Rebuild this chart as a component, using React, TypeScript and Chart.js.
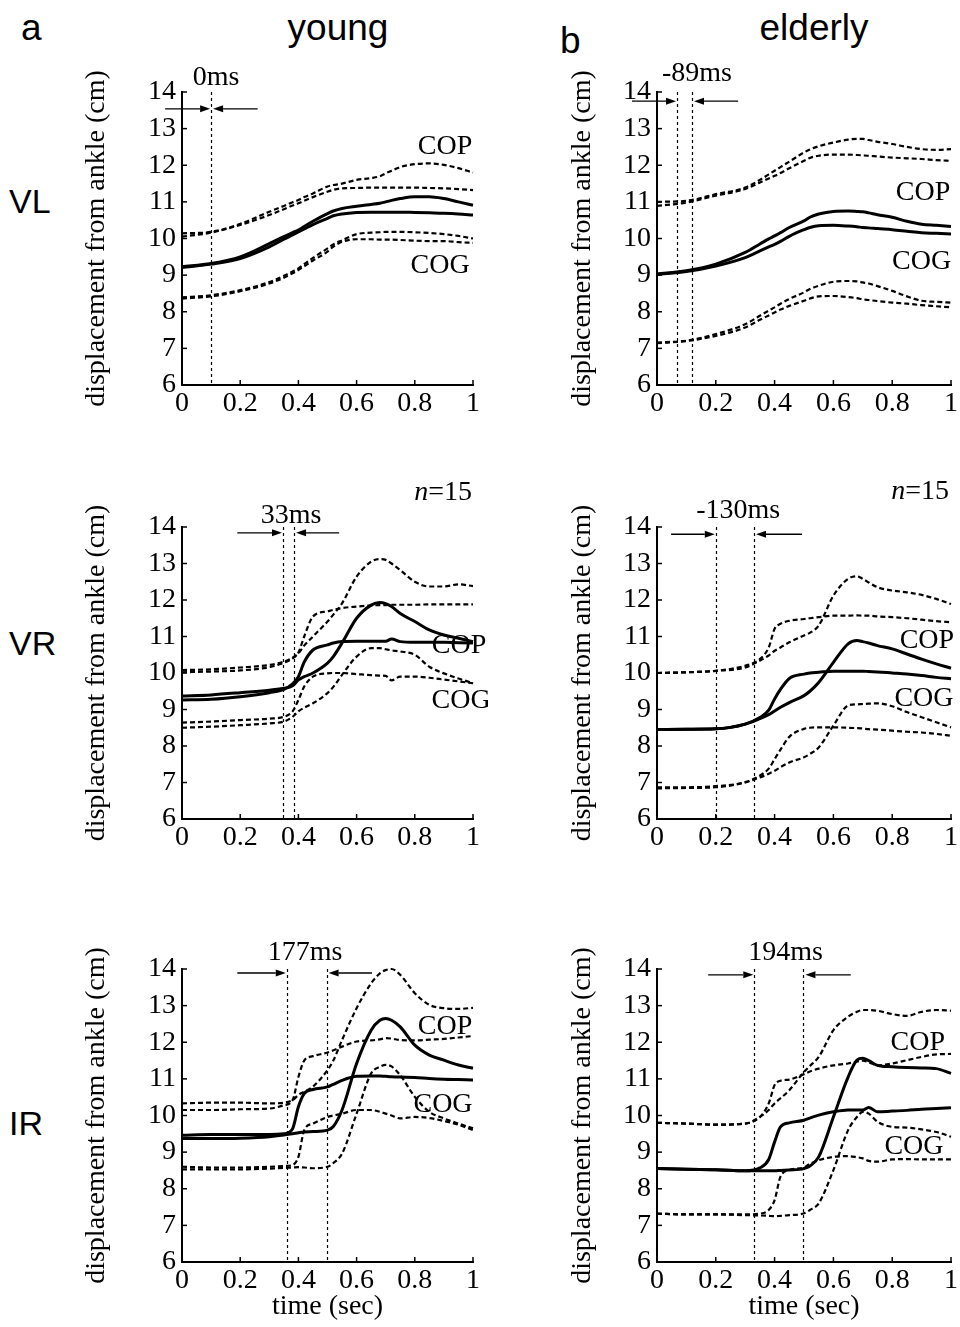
import React, { useEffect, useRef } from "react";
import { Chart, registerables } from "chart.js";

Chart.register(...registerables);

const SERIF = "'Liberation Serif', 'Times New Roman', serif";
const SANS = "'Liberation Sans', Arial, sans-serif";

// time axis (sec) shared by every series
const times = [0, 0.1, 0.2, 0.3, 0.35, 0.38, 0.4, 0.42, 0.45, 0.5, 0.52, 0.55, 0.6, 0.65, 0.68, 0.7, 0.72, 0.75, 0.8, 0.85, 0.9, 0.95, 1.0];
const xTickValues = [0, 0.2, 0.4, 0.6, 0.8, 1];
const yTickValues = [6, 7, 8, 9, 10, 11, 12, 13, 14];

// ---- young, VL ----
const youngVL_sdUpper1 = [10.14, 10.18, 10.4, 10.73, 10.89, 10.99, 11.05, 11.13, 11.23, 11.42, 11.46, 11.5, 11.6, 11.65, 11.7, 11.78, 11.85, 11.95, 12.03, 12.05, 12.01, 11.92, 11.8];
const youngVL_sdUpper2 = [10.05, 10.16, 10.37, 10.64, 10.8, 10.9, 10.96, 11.03, 11.13, 11.28, 11.33, 11.37, 11.38, 11.39, 11.39, 11.39, 11.39, 11.39, 11.39, 11.38, 11.37, 11.35, 11.32];
const youngVL_meanA = [9.23, 9.32, 9.5, 9.86, 10.05, 10.16, 10.23, 10.33, 10.47, 10.68, 10.75, 10.82, 10.88, 10.93, 10.96, 11.0, 11.04, 11.09, 11.14, 11.14, 11.09, 11.0, 10.91];
const youngVL_meanB = [9.21, 9.3, 9.45, 9.77, 9.98, 10.1, 10.18, 10.26, 10.38, 10.55, 10.62, 10.67, 10.71, 10.72, 10.72, 10.72, 10.72, 10.72, 10.71, 10.7, 10.69, 10.67, 10.64];
const youngVL_sdLower1 = [8.39, 8.45, 8.59, 8.81, 8.98, 9.1, 9.18, 9.3, 9.47, 9.73, 9.84, 9.95, 10.12, 10.16, 10.17, 10.18, 10.18, 10.18, 10.17, 10.15, 10.12, 10.07, 10.0];
const youngVL_sdLower2 = [8.36, 8.42, 8.56, 8.77, 8.93, 9.05, 9.14, 9.24, 9.4, 9.64, 9.78, 9.91, 9.98, 9.98, 9.97, 9.97, 9.97, 9.96, 9.94, 9.93, 9.93, 9.9, 9.88];

// ---- elderly, VL ----
const elderlyVL_sdUpper1 = [11.0, 11.03, 11.21, 11.39, 11.6, 11.75, 11.85, 11.95, 12.1, 12.35, 12.43, 12.52, 12.62, 12.7, 12.72, 12.72, 12.69, 12.64, 12.58, 12.5, 12.44, 12.42, 12.44];
const elderlyVL_sdUpper2 = [10.89, 10.98, 11.17, 11.35, 11.53, 11.64, 11.71, 11.79, 11.92, 12.12, 12.2, 12.26, 12.29, 12.29, 12.28, 12.27, 12.26, 12.24, 12.21, 12.19, 12.17, 12.14, 12.12];
const elderlyVL_meanA = [9.03, 9.12, 9.3, 9.62, 9.85, 9.99, 10.07, 10.16, 10.3, 10.48, 10.58, 10.67, 10.74, 10.75, 10.74, 10.73, 10.7, 10.65, 10.58, 10.47, 10.39, 10.36, 10.33];
const elderlyVL_meanB = [9.02, 9.1, 9.25, 9.48, 9.66, 9.77, 9.84, 9.92, 10.06, 10.24, 10.3, 10.35, 10.36, 10.34, 10.32, 10.3, 10.29, 10.27, 10.24, 10.2, 10.16, 10.14, 10.12];
const elderlyVL_sdLower1 = [7.16, 7.21, 7.39, 7.66, 7.89, 8.03, 8.12, 8.22, 8.35, 8.53, 8.62, 8.71, 8.82, 8.84, 8.83, 8.8, 8.77, 8.7, 8.57, 8.42, 8.3, 8.27, 8.25];
const elderlyVL_sdLower2 = [7.14, 7.2, 7.34, 7.57, 7.78, 7.9, 7.98, 8.06, 8.16, 8.3, 8.36, 8.42, 8.43, 8.4, 8.37, 8.34, 8.32, 8.29, 8.25, 8.22, 8.18, 8.15, 8.12];

// ---- young, VR ----
const youngVR_sdUpper1 = [10.08, 10.1, 10.15, 10.22, 10.31, 10.42, 10.54, 10.75, 11.0, 11.41, 11.6, 11.91, 12.64, 13.05, 13.12, 13.1, 13.0, 12.82, 12.5, 12.37, 12.37, 12.43, 12.38];
const youngVR_sdUpper2 = [10.02, 10.04, 10.07, 10.16, 10.28, 10.4, 10.56, 11.0, 11.55, 11.69, 11.73, 11.78, 11.82, 11.85, 11.86, 11.86, 11.87, 11.87, 11.87, 11.88, 11.88, 11.88, 11.88];
const youngVR_meanA = [9.37, 9.4, 9.46, 9.53, 9.58, 9.65, 9.81, 9.9, 10.0, 10.27, 10.45, 10.82, 11.5, 11.86, 11.93, 11.9, 11.82, 11.63, 11.41, 11.18, 11.04, 10.95, 10.86];
const youngVR_meanB = [9.26, 9.28, 9.35, 9.46, 9.55, 9.7, 9.9, 10.3, 10.63, 10.77, 10.82, 10.86, 10.87, 10.87, 10.87, 10.87, 10.93, 10.86, 10.84, 10.84, 10.84, 10.83, 10.82];
const youngVR_sdLower1 = [8.64, 8.67, 8.71, 8.75, 8.8, 8.95, 9.26, 9.63, 9.9, 9.99, 10.0, 10.0, 9.97, 9.94, 9.93, 9.92, 9.8, 9.9, 9.9, 9.87, 9.82, 9.77, 9.72];
const youngVR_sdLower2 = [8.5, 8.53, 8.57, 8.62, 8.67, 8.8, 8.95, 9.05, 9.17, 9.45, 9.62, 9.95, 10.45, 10.68, 10.68, 10.65, 10.62, 10.59, 10.5, 10.17, 9.99, 9.85, 9.72];

// ---- elderly, VR ----
const elderlyVR_sdUpper1 = [10.0, 10.02, 10.06, 10.15, 10.34, 10.48, 10.61, 10.7, 10.84, 11.03, 11.1, 11.3, 12.12, 12.58, 12.65, 12.58, 12.48, 12.35, 12.26, 12.21, 12.14, 12.03, 11.89];
const elderlyVR_sdUpper2 = [10.0, 10.02, 10.06, 10.2, 10.38, 10.7, 11.21, 11.35, 11.43, 11.48, 11.5, 11.53, 11.57, 11.57, 11.58, 11.57, 11.57, 11.55, 11.53, 11.5, 11.46, 11.42, 11.39];
const elderlyVR_meanA = [8.45, 8.46, 8.47, 8.6, 8.78, 8.98, 9.29, 9.55, 9.85, 9.97, 10.0, 10.02, 10.05, 10.05, 10.05, 10.05, 10.04, 10.03, 10.0, 9.97, 9.93, 9.88, 9.84];
const elderlyVR_meanB = [8.45, 8.46, 8.47, 8.6, 8.75, 8.86, 8.96, 9.06, 9.19, 9.38, 9.5, 9.74, 10.29, 10.8, 10.89, 10.86, 10.82, 10.75, 10.66, 10.52, 10.38, 10.25, 10.13];
const elderlyVR_sdLower1 = [6.87, 6.87, 6.9, 7.01, 7.19, 7.38, 7.64, 7.9, 8.25, 8.47, 8.5, 8.51, 8.51, 8.5, 8.49, 8.48, 8.46, 8.45, 8.42, 8.39, 8.37, 8.33, 8.28];
const elderlyVR_sdLower2 = [6.84, 6.85, 6.87, 7.0, 7.14, 7.24, 7.32, 7.42, 7.55, 7.69, 7.78, 7.96, 8.56, 9.11, 9.14, 9.15, 9.16, 9.17, 9.09, 8.93, 8.79, 8.65, 8.51];

// ---- young, IR ----
const youngIR_sdUpper1 = [10.33, 10.35, 10.35, 10.33, 10.35, 10.42, 10.56, 10.65, 10.79, 11.24, 11.5, 12.06, 12.93, 13.61, 13.88, 13.97, 14.0, 13.84, 13.34, 13.02, 12.93, 12.91, 12.94];
const youngIR_sdUpper2 = [10.15, 10.15, 10.17, 10.19, 10.28, 10.42, 11.05, 11.5, 11.62, 11.72, 11.78, 11.88, 12.02, 12.05, 12.08, 12.11, 12.1, 12.06, 12.05, 12.07, 12.09, 12.13, 12.17];
const youngIR_meanA = [9.46, 9.48, 9.48, 9.48, 9.5, 9.64, 10.24, 10.6, 10.71, 10.78, 10.85, 10.96, 11.07, 11.08, 11.08, 11.07, 11.06, 11.05, 11.04, 11.01, 10.99, 10.98, 10.97];
const youngIR_meanB = [9.37, 9.37, 9.38, 9.42, 9.47, 9.5, 9.53, 9.55, 9.56, 9.6, 9.7, 10.15, 11.42, 12.33, 12.6, 12.65, 12.6, 12.42, 11.92, 11.65, 11.51, 11.38, 11.29];
const youngIR_sdLower1 = [8.6, 8.58, 8.58, 8.6, 8.62, 8.65, 8.87, 9.6, 9.78, 9.96, 10.0, 10.05, 10.15, 10.15, 10.1, 10.05, 10.0, 9.92, 9.96, 9.93, 9.85, 9.75, 9.6];
const youngIR_sdLower2 = [8.53, 8.53, 8.53, 8.55, 8.57, 8.58, 8.59, 8.58, 8.56, 8.6, 8.7, 8.96, 10.05, 11.15, 11.33, 11.38, 11.34, 11.1, 10.51, 10.1, 9.92, 9.78, 9.65];

// ---- elderly, IR ----
const elderlyIR_sdUpper1 = [9.8, 9.78, 9.75, 9.78, 9.96, 10.15, 10.33, 10.47, 10.69, 11.19, 11.35, 11.6, 12.33, 12.7, 12.83, 12.88, 12.88, 12.86, 12.77, 12.72, 12.83, 12.88, 12.86];
const elderlyIR_sdUpper2 = [9.8, 9.78, 9.75, 9.78, 9.96, 10.33, 10.83, 10.95, 10.98, 11.13, 11.2, 11.28, 11.37, 11.42, 11.47, 11.5, 11.45, 11.37, 11.42, 11.51, 11.6, 11.67, 11.68];
const elderlyIR_meanA = [8.55, 8.53, 8.52, 8.49, 8.57, 8.8, 9.28, 9.69, 9.8, 9.87, 9.93, 10.01, 10.1, 10.15, 10.15, 10.15, 10.22, 10.1, 10.12, 10.14, 10.17, 10.19, 10.21];
const elderlyIR_meanB = [8.55, 8.53, 8.52, 8.49, 8.49, 8.49, 8.49, 8.5, 8.51, 8.55, 8.62, 8.87, 9.96, 11.05, 11.51, 11.56, 11.5, 11.37, 11.33, 11.31, 11.3, 11.28, 11.15];
const elderlyIR_sdLower1 = [7.32, 7.3, 7.3, 7.3, 7.32, 7.42, 7.69, 8.33, 8.51, 8.58, 8.68, 8.78, 8.87, 8.89, 8.86, 8.83, 8.76, 8.74, 8.8, 8.81, 8.8, 8.8, 8.8];
const elderlyIR_sdLower2 = [7.32, 7.3, 7.3, 7.28, 7.27, 7.26, 7.25, 7.26, 7.28, 7.33, 7.42, 7.6, 8.51, 9.6, 9.96, 10.1, 10.05, 9.83, 9.69, 9.67, 9.62, 9.55, 9.42];

// onset markers (sec)
const youngVL_markers = [0.1];
const elderlyVL_markers = [0.068, 0.119];
const youngVR_markers = [0.347, 0.385];
const elderlyVR_markers = [0.2, 0.33];
const youngIR_markers = [0.36, 0.497];
const elderlyIR_markers = [0.331, 0.498];

type Part = { text: string; italic?: boolean };
type Note = { t: number; v: number; parts: Part[] };
type PanelSpec = {
  key: string;
  left: number;
  top: number;
  width: number;
  height: number;
  yScaleWidth: number;
  xScaleHeight: number;
  padRight: number;
  showXTitle: boolean;
  means: number[][];
  sds: number[][];
  markers: number[];
  arrowLevel: number;
  arrowFrom: [number, number];
  notes: Note[];
};

const LEFT_COL = { left: 76, width: 412, yScaleWidth: 106, padRight: 15 };
const RIGHT_COL = { left: 562, width: 398, yScaleWidth: 95, padRight: 9 };
const ROW1 = { top: 32, height: 393, xScaleHeight: 40, showXTitle: false };
const ROW2 = { top: 467, height: 392, xScaleHeight: 40, showXTitle: false };
const ROW3 = { top: 909, height: 418, xScaleHeight: 65, showXTitle: true };

const t = (text: string): Part[] => [{ text }];
const nLabel: Part[] = [{ text: "n", italic: true }, { text: "=15" }];

const panels: PanelSpec[] = [
  {
    key: "youngVL", ...LEFT_COL, ...ROW1,
    means: [youngVL_meanA, youngVL_meanB],
    sds: [youngVL_sdUpper1, youngVL_sdUpper2, youngVL_sdLower1, youngVL_sdLower2],
    markers: youngVL_markers, arrowLevel: 13.54, arrowFrom: [-0.058, 0.26],
    notes: [
      { t: 0.117, v: 14.4, parts: t("0ms") },
      { t: 0.904, v: 12.52, parts: t("COP") },
      { t: 0.887, v: 9.27, parts: t("COG") },
    ],
  },
  {
    key: "elderlyVL", ...RIGHT_COL, ...ROW1,
    means: [elderlyVL_meanA, elderlyVL_meanB],
    sds: [elderlyVL_sdUpper1, elderlyVL_sdUpper2, elderlyVL_sdLower1, elderlyVL_sdLower2],
    markers: elderlyVL_markers, arrowLevel: 13.75, arrowFrom: [-0.085, 0.276],
    notes: [
      { t: 0.136, v: 14.49, parts: t("-89ms") },
      { t: 0.905, v: 11.24, parts: t("COP") },
      { t: 0.9, v: 9.38, parts: t("COG") },
    ],
  },
  {
    key: "youngVR", ...LEFT_COL, ...ROW2,
    means: [youngVR_meanA, youngVR_meanB],
    sds: [youngVR_sdUpper1, youngVR_sdUpper2, youngVR_sdLower1, youngVR_sdLower2],
    markers: youngVR_markers, arrowLevel: 13.84, arrowFrom: [0.19, 0.54],
    notes: [
      { t: 0.897, v: 14.93, parts: nLabel },
      { t: 0.375, v: 14.3, parts: t("33ms") },
      { t: 0.952, v: 10.74, parts: t("COP") },
      { t: 0.959, v: 9.23, parts: t("COG") },
    ],
  },
  {
    key: "elderlyVR", ...RIGHT_COL, ...ROW2,
    means: [elderlyVR_meanA, elderlyVR_meanB],
    sds: [elderlyVR_sdUpper1, elderlyVR_sdUpper2, elderlyVR_sdLower1, elderlyVR_sdLower2],
    markers: elderlyVR_markers, arrowLevel: 13.8, arrowFrom: [0.048, 0.493],
    notes: [
      { t: 0.895, v: 14.96, parts: nLabel },
      { t: 0.276, v: 14.44, parts: t("-130ms") },
      { t: 0.918, v: 10.88, parts: t("COP") },
      { t: 0.908, v: 9.29, parts: t("COG") },
    ],
  },
  {
    key: "youngIR", ...LEFT_COL, ...ROW3,
    means: [youngIR_meanA, youngIR_meanB],
    sds: [youngIR_sdUpper1, youngIR_sdUpper2, youngIR_sdLower1, youngIR_sdLower2],
    markers: youngIR_markers, arrowLevel: 13.89, arrowFrom: [0.19, 0.653],
    notes: [
      { t: 0.423, v: 14.44, parts: t("177ms") },
      { t: 0.904, v: 12.42, parts: t("COP") },
      { t: 0.897, v: 10.31, parts: t("COG") },
    ],
  },
  {
    key: "elderlyIR", ...RIGHT_COL, ...ROW3,
    means: [elderlyIR_meanA, elderlyIR_meanB],
    sds: [elderlyIR_sdUpper1, elderlyIR_sdUpper2, elderlyIR_sdLower1, elderlyIR_sdLower2],
    markers: elderlyIR_markers, arrowLevel: 13.84, arrowFrom: [0.174, 0.659],
    notes: [
      { t: 0.437, v: 14.44, parts: t("194ms") },
      { t: 0.887, v: 12.0, parts: t("COP") },
      { t: 0.874, v: 9.16, parts: t("COG") },
    ],
  },
];

const FONT_SIZE = 28;

function drawArrow(ctx: CanvasRenderingContext2D, x0: number, x1: number, y: number) {
  const dir = x1 > x0 ? 1 : -1;
  const head = 10;
  ctx.beginPath();
  ctx.moveTo(x0, y);
  ctx.lineTo(x1 - dir * head, y);
  ctx.stroke();
  ctx.beginPath();
  ctx.moveTo(x1, y);
  ctx.lineTo(x1 - dir * head, y - 3.5);
  ctx.lineTo(x1 - dir * head, y + 3.5);
  ctx.closePath();
  ctx.fill();
}

function PanelChart({ spec }: { spec: PanelSpec }) {
  const canvasRef = useRef<HTMLCanvasElement | null>(null);

  useEffect(() => {
    const canvas = canvasRef.current;
    if (!canvas) return;
    const font = { family: SERIF, size: FONT_SIZE, style: "normal", weight: "normal", lineHeight: 1.2 };
    const line = (arr: number[], dashed: boolean) => ({
      data: times.map((tm, i) => ({ x: tm, y: arr[i] })),
      borderColor: "#000",
      backgroundColor: "#000",
      borderWidth: dashed ? 2.2 : 3,
      borderDash: dashed ? [5, 3] : [],
      pointRadius: 0,
      cubicInterpolationMode: "monotone",
      fill: false,
      clip: 8,
    });

    const annot = {
      id: "annot_" + spec.key,
      beforeDatasetsDraw(chart: any) {
        const { ctx, scales } = chart;
        const xs = scales.x;
        const ys = scales.y;
        ctx.save();
        ctx.fillStyle = "#000";
        ctx.textBaseline = "middle";
        ctx.textAlign = "left";
        spec.notes.forEach((n) => {
          let total = 0;
          const widths = n.parts.map((p) => {
            ctx.font = `${p.italic ? "italic " : ""}${FONT_SIZE}px ${SERIF}`;
            const w = ctx.measureText(p.text).width;
            total += w;
            return w;
          });
          let cx = xs.getPixelForValue(n.t) - total / 2;
          const cy = ys.getPixelForValue(n.v);
          n.parts.forEach((p, i) => {
            ctx.font = `${p.italic ? "italic " : ""}${FONT_SIZE}px ${SERIF}`;
            ctx.fillText(p.text, cx, cy);
            cx += widths[i];
          });
        });
        ctx.restore();
      },
      afterDatasetsDraw(chart: any) {
        const { ctx, chartArea, scales } = chart;
        const xs = scales.x;
        const ys = scales.y;
        ctx.save();
        ctx.strokeStyle = "#000";
        ctx.fillStyle = "#000";
        ctx.lineWidth = 1.5;
        yTickValues.forEach((v) => {
          const py = ys.getPixelForValue(v);
          ctx.beginPath();
          ctx.moveTo(chartArea.left, py);
          ctx.lineTo(chartArea.left + 5, py);
          ctx.stroke();
        });
        xTickValues.forEach((v) => {
          const px = xs.getPixelForValue(v);
          ctx.beginPath();
          ctx.moveTo(px, chartArea.bottom);
          ctx.lineTo(px, chartArea.bottom - 5);
          ctx.stroke();
        });
        ctx.lineWidth = 1.2;
        ctx.setLineDash([3, 3]);
        spec.markers.forEach((m) => {
          const px = Math.round(xs.getPixelForValue(m)) + 0.5;
          ctx.beginPath();
          ctx.moveTo(px, ys.getPixelForValue(14));
          ctx.lineTo(px, ys.getPixelForValue(6));
          ctx.stroke();
        });
        ctx.setLineDash([]);
        ctx.lineWidth = 1.4;
        const ay = ys.getPixelForValue(spec.arrowLevel);
        const m0 = xs.getPixelForValue(spec.markers[0]);
        const m1 = xs.getPixelForValue(spec.markers[spec.markers.length - 1]);
        drawArrow(ctx, xs.getPixelForValue(spec.arrowFrom[0]), m0 - 1, ay);
        drawArrow(ctx, xs.getPixelForValue(spec.arrowFrom[1]), m1 + 2, ay);
        ctx.restore();
      },
    };

    const chart = new Chart(canvas, {
      type: "line",
      data: {
        datasets: [
          ...spec.sds.map((s) => line(s, true)),
          ...spec.means.map((s) => line(s, false)),
        ],
      },
      options: {
        animation: false,
        responsive: false,
        devicePixelRatio: 1,
        layout: { padding: { top: 60, right: spec.padRight, bottom: 0, left: 0 } },
        plugins: { legend: { display: false }, tooltip: { enabled: false } },
        scales: {
          x: {
            type: "linear",
            min: 0,
            max: 1,
            afterBuildTicks: (s: any) => {
              s.ticks = xTickValues.map((v) => ({ value: v }));
            },
            afterFit: (s: any) => {
              s.height = spec.xScaleHeight;
            },
            ticks: {
              autoSkip: false,
              maxRotation: 0,
              color: "#000",
              font,
              padding: 2,
              callback: (v: any) => String(v),
            },
            grid: { display: false, drawTicks: false },
            border: { display: true, color: "#000", width: 2 },
            title: {
              display: spec.showXTitle,
              text: "time (sec)",
              color: "#000",
              font,
              padding: { top: 0, bottom: 4 },
            },
          },
          y: {
            type: "linear",
            min: 6,
            max: 14,
            afterBuildTicks: (s: any) => {
              s.ticks = yTickValues.map((v) => ({ value: v }));
            },
            afterFit: (s: any) => {
              s.width = spec.yScaleWidth;
            },
            ticks: { autoSkip: false, color: "#000", font, padding: 6, callback: (v: any) => String(v) },
            grid: { display: false, drawTicks: false },
            border: { display: true, color: "#000", width: 2 },
            title: {
              display: true,
              text: "displacement from ankle (cm)",
              color: "#000",
              font,
              padding: { top: 4, bottom: 4 },
            },
          },
        },
      },
      plugins: [annot],
    } as any);
    return () => chart.destroy();
  }, [spec]);

  return (
    <canvas
      ref={canvasRef}
      width={spec.width}
      height={spec.height}
      style={{ position: "absolute", left: spec.left, top: spec.top, width: spec.width, height: spec.height }}
    />
  );
}

const headings = [
  { text: "a", left: 21, top: 9, size: 37, width: 40, align: "left" },
  { text: "young", left: 238, top: 9, size: 37, width: 200, align: "center" },
  { text: "b", left: 560, top: 22, size: 37, width: 40, align: "left" },
  { text: "elderly", left: 714, top: 9, size: 37, width: 200, align: "center" },
  { text: "VL", left: 9, top: 184, size: 34, width: 80, align: "left" },
  { text: "VR", left: 9, top: 626, size: 34, width: 80, align: "left" },
  { text: "IR", left: 9, top: 1106, size: 34, width: 80, align: "left" },
];

export default function App() {
  return (
    <div
      style={{
        position: "absolute",
        left: 0,
        top: 0,
        width: 960,
        height: 1327,
        background: "#fff",
        overflow: "hidden",
      }}
    >
      {headings.map((h) => (
        <div
          key={h.text}
          style={{
            position: "absolute",
            left: h.left,
            top: h.top,
            width: h.width,
            fontFamily: SANS,
            fontSize: h.size,
            lineHeight: 1,
            textAlign: h.align as any,
            color: "#000",
            whiteSpace: "nowrap",
          }}
        >
          {h.text}
        </div>
      ))}
      {panels.map((p) => (
        <PanelChart key={p.key} spec={p} />
      ))}
    </div>
  );
}
